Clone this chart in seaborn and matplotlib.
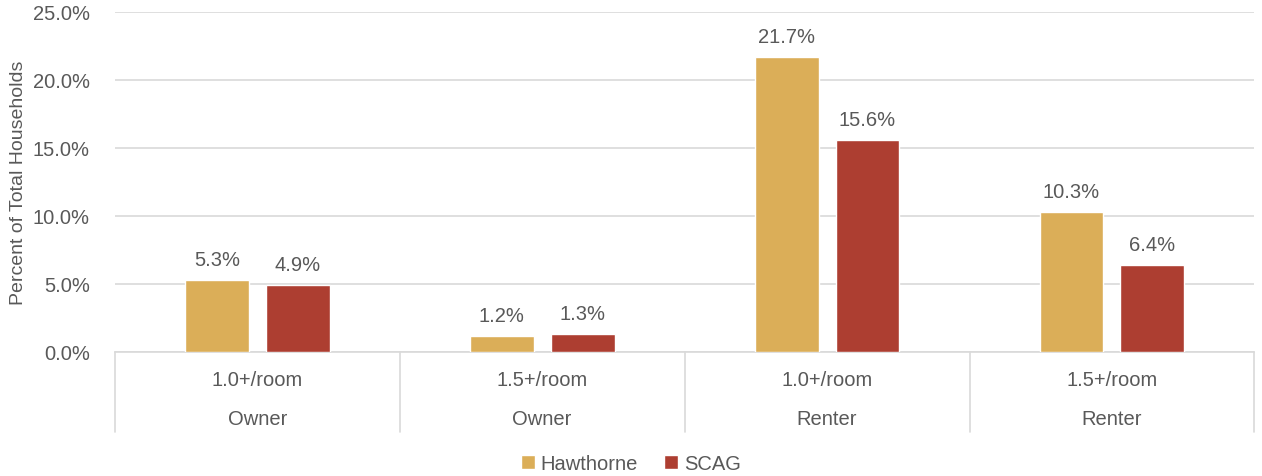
import numpy as np
import pandas as pd
import matplotlib
matplotlib.use('Agg')
import matplotlib.pyplot as plt
import matplotlib.transforms as mtransforms
from matplotlib.patches import Patch
import seaborn as sns

# Данные
ratio = ['1.0+/room', '1.5+/room', '1.0+/room', '1.5+/room']
tenure = ['Owner', 'Owner', 'Renter', 'Renter']
hawthorne = [5.3, 1.2, 21.7, 10.3]
scag = [4.9, 1.3, 15.6, 6.4]
series = ['Hawthorne', 'SCAG']
colors = ['#DBAE58', '#AD3E31']

keys = [f'{r}|{t}' for r, t in zip(ratio, tenure)]
df = pd.DataFrame({
    'group': keys * 2,
    'series': ['Hawthorne'] * 4 + ['SCAG'] * 4,
    'value': hawthorne + scag,
})

sns.set_style('white')
plt.rcParams['font.family'] = ['Liberation Sans', 'DejaVu Sans']
text_c = '#595959'
grid_c = '#D9D9D9'
fs = 14.5

fig = plt.figure(figsize=(12.62, 4.77), dpi=100)
ax = fig.add_axes([0.091, 0.26, 0.903, 0.713])

sns.barplot(data=df, x='group', y='value', hue='series', order=keys,
            hue_order=series, palette=colors, width=0.568, gap=0.21,
            saturation=1, ax=ax, legend=False, zorder=3)

ax.set_ylim(0, 25)
ax.set_xlim(-0.5, 3.5)
ax.set_yticks(np.arange(0, 26, 5))
ax.set_yticklabels([f'{v:.1f}%' for v in np.arange(0, 26, 5)], color=text_c, fontsize=fs)
ax.yaxis.grid(True, color=grid_c, linewidth=1.2, zorder=0)
for s in ['top', 'right', 'left']:
    ax.spines[s].set_visible(False)
ax.spines['bottom'].set_color(grid_c)
ax.spines['bottom'].set_linewidth(1.2)
ax.tick_params(axis='y', length=0, pad=18)
ax.tick_params(axis='x', length=0)
ax.set_xticklabels([])
ax.set_xlabel('')
ax.set_ylabel('Percent of Total Households', color=text_c, fontsize=14, labelpad=4)

# подписи значений
for cont in ax.containers:
    ax.bar_label(cont, labels=[f'{v:.1f}%' for v in cont.datavalues],
                 padding=8, color=text_c, fontsize=fs)

# двухуровневая ось категорий
trans = mtransforms.blended_transform_factory(ax.transData, fig.transFigure)
for i in range(5):
    ax.plot([i - 0.5, i - 0.5], [0.26, 0.092], transform=trans, color=grid_c,
            linewidth=1.2, clip_on=False)
for i in range(4):
    ax.text(i, 0.203, ratio[i], transform=trans, ha='center', va='center',
            color=text_c, fontsize=fs)
    ax.text(i, 0.12, tenure[i], transform=trans, ha='center', va='center',
            color=text_c, fontsize=fs)

handles = [Patch(facecolor=c, label=s) for c, s in zip(colors, series)]
fig.legend(handles=handles, loc='center', bbox_to_anchor=(0.5, 0.027), ncol=2,
           frameon=False, fontsize=fs, handlelength=0.7, handleheight=0.7,
           handletextpad=0.3, columnspacing=1.3, labelcolor=text_c)

fig.savefig('out.png', dpi=100)
